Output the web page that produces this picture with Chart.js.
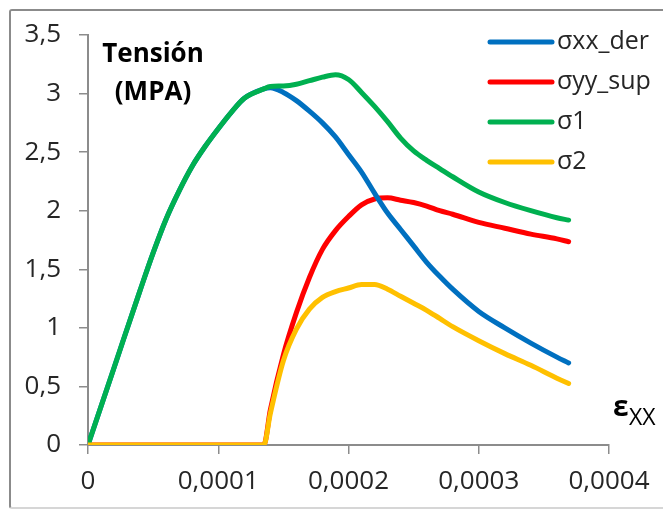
<!DOCTYPE html>
<html>
<head>
<meta charset="utf-8">
<script src="https://cdn.jsdelivr.net/npm/chart.js@4.4.1/dist/chart.umd.min.js"></script>
<style>
  html, body { margin: 0; padding: 0; background: #fff; }
  #wrap { position: relative; width: 663px; height: 509px; overflow: hidden; }
  #frame {
    position: absolute; left: 9px; top: 9px; width: 700px; height: 496px;
    border: 2px solid #8b8b8b; border-bottom-color: #d6d6d6; border-radius: 3px;
  }
  #chart { position: absolute; left: 0; top: 0; }
</style>
</head>
<body>
<div id="wrap">
  <div id="frame"></div>
  <canvas id="chart" width="663" height="509"></canvas>
</div>
<script>
// strain (εxx) shared by all series
const strain = [0, 0.00002, 0.00004, 0.00005, 0.00006, 0.00007, 0.00008, 0.00009, 0.0001,
  0.00011, 0.00012, 0.000135, 0.00014, 0.00015, 0.00016, 0.00017, 0.00018, 0.00019, 0.0002,
  0.00021, 0.00022, 0.00023, 0.00024, 0.00025, 0.00026, 0.00027, 0.00028, 0.0003, 0.00032,
  0.00034, 0.00036, 0.000369];

const sigmaXXDer = [0, 0.66, 1.32, 1.64, 1.93, 2.17, 2.38, 2.55, 2.70,
  2.84, 2.96, 3.04, 3.05, 3.01, 2.94, 2.85, 2.75, 2.63, 2.48,
  2.33, 2.15, 1.98, 1.84, 1.70, 1.56, 1.44, 1.33, 1.14, 1.00,
  0.87, 0.75, 0.70];

const sigmaYYSup = [0, 0, 0, 0, 0, 0, 0, 0, 0,
  0, 0, 0, 0.30, 0.77, 1.13, 1.43, 1.67, 1.83, 1.95,
  2.05, 2.10, 2.11, 2.09, 2.07, 2.04, 2.00, 1.97, 1.90, 1.85,
  1.80, 1.76, 1.735];

const sigma1 = [0, 0.66, 1.32, 1.64, 1.93, 2.17, 2.38, 2.55, 2.70,
  2.84, 2.96, 3.04, 3.06, 3.065, 3.08, 3.11, 3.14, 3.16, 3.12,
  3.01, 2.89, 2.76, 2.62, 2.51, 2.43, 2.36, 2.29, 2.16, 2.07,
  2.00, 1.94, 1.92];

const sigma2 = [0, 0, 0, 0, 0, 0, 0, 0, 0,
  0, 0, 0, 0.27, 0.72, 0.99, 1.16, 1.26, 1.31, 1.34,
  1.37, 1.37, 1.33, 1.27, 1.21, 1.15, 1.08, 1.01, 0.89, 0.78,
  0.68, 0.57, 0.525];

const seriesNames = ["σxx_der", "σyy_sup", "σ1", "σ2"];
const seriesValues = [sigmaXXDer, sigmaYYSup, sigma1, sigma2];
const seriesColors = ["#0070C0", "#FF0000", "#00B050", "#FFC000"];
const seriesOrder = [3, 4, 2, 1]; // yellow over red, green over blue

const FONT = "'Open Sans', 'DejaVu Sans', sans-serif";
const TEXT = "#262626";
const AXIS = "#8c8c8c";

function fmt(v) {
  return String(+v.toFixed(4)).replace(".", ",");
}

const datasets = seriesNames.map((name, i) => ({
  label: name,
  data: strain.map((x, k) => ({ x: x, y: seriesValues[i][k] })),
  borderColor: seriesColors[i],
  backgroundColor: seriesColors[i],
  borderWidth: 5,
  pointRadius: 0,
  showLine: true,
  cubicInterpolationMode: "monotone",
  borderCapStyle: "round",
  borderJoinStyle: "round",
  order: seriesOrder[i],
}));

// legend + free labels, drawn on top of the chart
const extras = {
  id: "extras",
  afterDraw(chart) {
    const ctx = chart.ctx;
    ctx.save();
    // legend
    ctx.lineCap = "round";
    ctx.lineWidth = 5;
    ctx.font = "25px " + FONT;
    ctx.textAlign = "left";
    ctx.textBaseline = "middle";
    seriesNames.forEach((name, i) => {
      const y = 42 + i * 40;
      ctx.strokeStyle = seriesColors[i];
      ctx.beginPath();
      ctx.moveTo(490, y);
      ctx.lineTo(552, y);
      ctx.stroke();
      ctx.fillStyle = TEXT;
      ctx.fillText(name, 557, y);
    });
    // y axis title
    ctx.fillStyle = "#000";
    ctx.textAlign = "center";
    ctx.font = "bold 26px " + FONT;
    ctx.fillText("Tensión", 153, 55);
    ctx.fillText("(MPA)", 153, 93);
    // x axis title
    ctx.textAlign = "left";
    ctx.font = "bold 28px " + FONT;
    ctx.fillText("ε", 613, 408);
    ctx.font = "23px " + FONT;
    ctx.fillText("XX", 629, 418);
    ctx.restore();
  },
};

new Chart(document.getElementById("chart"), {
  type: "scatter",
  data: { datasets: datasets },
  options: {
    responsive: false,
    animation: false,
    devicePixelRatio: 1,
    layout: { padding: { left: 0, right: 54, top: 35, bottom: 0 } },
    plugins: { legend: { display: false }, tooltip: { enabled: false } },
    scales: {
      x: {
        type: "linear",
        min: 0,
        max: 0.0004,
        afterFit: (s) => { s.height = 64; },
        ticks: {
          stepSize: 0.0001,
          callback: (v) => fmt(v),
          font: { family: FONT, size: 26 },
          color: TEXT,
          padding: 12,
          maxRotation: 0,
        },
        grid: { drawOnChartArea: false, drawTicks: true, tickLength: 9, color: AXIS, lineWidth: 1.5 },
        border: { display: true, color: AXIS, width: 2 },
      },
      y: {
        type: "linear",
        min: 0,
        max: 3.5,
        afterFit: (s) => { s.width = 88; },
        ticks: {
          stepSize: 0.5,
          callback: (v) => fmt(v),
          font: { family: FONT, size: 26 },
          color: TEXT,
          padding: 18,
        },
        grid: { drawOnChartArea: false, drawTicks: true, tickLength: 9, color: AXIS, lineWidth: 1.5 },
        border: { display: true, color: AXIS, width: 2 },
      },
    },
  },
  plugins: [extras],
});
</script>
</body>
</html>
